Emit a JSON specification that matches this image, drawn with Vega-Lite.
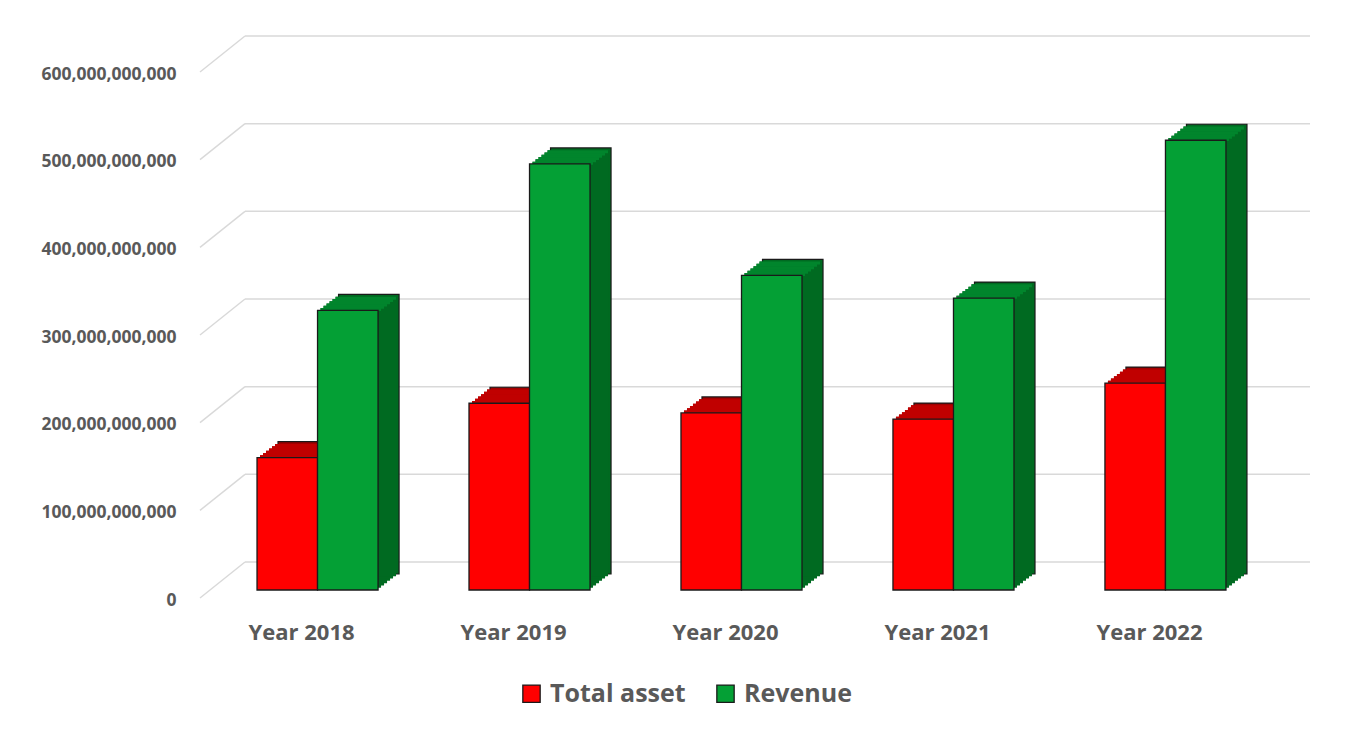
{
  "$schema": "https://vega.github.io/schema/vega-lite/v6.json",
  "autosize": {"type": "none"},
  "padding": {"left": 200, "top": 64, "right": 83, "bottom": 139},
  "width": 1083,
  "height": 526,
  "background": "#ffffff",
  "config": {"view": {"stroke": null}, "font": "Open Sans"},
  "datasets": {
    "bars": [
      {"year": "Year 2018", "series": "Total asset", "value": 151000000000},
      {"year": "Year 2018", "series": "Revenue", "value": 319000000000},
      {"year": "Year 2019", "series": "Total asset", "value": 213000000000},
      {"year": "Year 2019", "series": "Revenue", "value": 486000000000},
      {"year": "Year 2020", "series": "Total asset", "value": 202000000000},
      {"year": "Year 2020", "series": "Revenue", "value": 359000000000},
      {"year": "Year 2021", "series": "Total asset", "value": 195000000000},
      {"year": "Year 2021", "series": "Revenue", "value": 333000000000},
      {"year": "Year 2022", "series": "Total asset", "value": 236000000000},
      {"year": "Year 2022", "series": "Revenue", "value": 513000000000}
    ],
    "grid": [
      {"tick": 0}, {"tick": 100000000000}, {"tick": 200000000000}, {"tick": 300000000000},
      {"tick": 400000000000}, {"tick": 500000000000}, {"tick": 600000000000}
    ]
  },
  "layer": [
    {
      "data": {"name": "grid"},
      "mark": {"type": "rule", "color": "#d9d9d9", "strokeWidth": 1.5},
      "encoding": {
        "x": {"datum": 0, "type": "quantitative", "scale": {"domain": [0, 1], "range": [45, 1110]}, "axis": null},
        "x2": {"datum": 1},
        "y": {"field": "tick", "type": "quantitative", "scale": {"domain": [0, 600000000000], "nice": false, "range": [498, -28]}, "axis": null}
      }
    },
    {
      "data": {"name": "grid"},
      "mark": {"type": "rule", "color": "#d9d9d9", "strokeWidth": 1.5, "y2Offset": -36},
      "encoding": {
        "x": {"datum": 0, "type": "quantitative", "scale": {"domain": [0, 1], "range": [0, 45]}, "axis": null},
        "x2": {"datum": 1},
        "y": {"field": "tick", "type": "quantitative", "scale": {"domain": [0, 600000000000], "nice": false, "range": [534, 8]}, "axis": null},
        "y2": {"field": "tick"}
      }
    },
    {
      "data": {"name": "bars"},
      "mark": {"type": "bar", "stroke": "#1a1a1a", "strokeWidth": 1.2},
      "encoding": {
        "x": {"field": "year", "type": "nominal", "scale": {"paddingInner": 0.429, "paddingOuter": 0.269, "range": [21, 1104]}, "axis": null},
        "xOffset": {"field": "series", "type": "nominal", "sort": ["Total asset", "Revenue"], "scale": {"paddingInner": 0, "paddingOuter": 0}},
        "y": {"field": "value", "type": "quantitative", "scale": {"domain": [0, 600000000000], "nice": false, "range": [510, -16]}, "axis": null},
        "color": {"condition": {"test": "datum.series === 'Revenue'", "value": "#006A21"}, "value": "#A00000"}
      }
    },
    {
      "data": {"name": "bars"},
      "mark": {"type": "bar", "strokeWidth": 0},
      "encoding": {
        "x": {"field": "year", "type": "nominal", "scale": {"paddingInner": 0.429, "paddingOuter": 0.269, "range": [3, 1086]}, "axis": null},
        "xOffset": {"field": "series", "type": "nominal", "sort": ["Total asset", "Revenue"], "scale": {"paddingInner": 0, "paddingOuter": 0}},
        "y": {"field": "value", "type": "quantitative", "scale": {"domain": [0, 600000000000], "nice": false, "range": [523.71, -2.29]}, "axis": null},
        "color": {"condition": {"test": "datum.series === 'Revenue'", "value": "#006A21"}, "value": "#A00000"}
      }
    },
    {
      "data": {"name": "bars"},
      "mark": {"type": "bar", "strokeWidth": 0},
      "encoding": {
        "x": {"field": "year", "type": "nominal", "scale": {"paddingInner": 0.429, "paddingOuter": 0.269, "range": [6, 1089]}, "axis": null},
        "xOffset": {"field": "series", "type": "nominal", "sort": ["Total asset", "Revenue"], "scale": {"paddingInner": 0, "paddingOuter": 0}},
        "y": {"field": "value", "type": "quantitative", "scale": {"domain": [0, 600000000000], "nice": false, "range": [521.43, -4.57]}, "axis": null},
        "color": {"condition": {"test": "datum.series === 'Revenue'", "value": "#006A21"}, "value": "#A00000"}
      }
    },
    {
      "data": {"name": "bars"},
      "mark": {"type": "bar", "strokeWidth": 0},
      "encoding": {
        "x": {"field": "year", "type": "nominal", "scale": {"paddingInner": 0.429, "paddingOuter": 0.269, "range": [9, 1092]}, "axis": null},
        "xOffset": {"field": "series", "type": "nominal", "sort": ["Total asset", "Revenue"], "scale": {"paddingInner": 0, "paddingOuter": 0}},
        "y": {"field": "value", "type": "quantitative", "scale": {"domain": [0, 600000000000], "nice": false, "range": [519.14, -6.86]}, "axis": null},
        "color": {"condition": {"test": "datum.series === 'Revenue'", "value": "#006A21"}, "value": "#A00000"}
      }
    },
    {
      "data": {"name": "bars"},
      "mark": {"type": "bar", "strokeWidth": 0},
      "encoding": {
        "x": {"field": "year", "type": "nominal", "scale": {"paddingInner": 0.429, "paddingOuter": 0.269, "range": [12, 1095]}, "axis": null},
        "xOffset": {"field": "series", "type": "nominal", "sort": ["Total asset", "Revenue"], "scale": {"paddingInner": 0, "paddingOuter": 0}},
        "y": {"field": "value", "type": "quantitative", "scale": {"domain": [0, 600000000000], "nice": false, "range": [516.86, -9.14]}, "axis": null},
        "color": {"condition": {"test": "datum.series === 'Revenue'", "value": "#006A21"}, "value": "#A00000"}
      }
    },
    {
      "data": {"name": "bars"},
      "mark": {"type": "bar", "strokeWidth": 0},
      "encoding": {
        "x": {"field": "year", "type": "nominal", "scale": {"paddingInner": 0.429, "paddingOuter": 0.269, "range": [15, 1098]}, "axis": null},
        "xOffset": {"field": "series", "type": "nominal", "sort": ["Total asset", "Revenue"], "scale": {"paddingInner": 0, "paddingOuter": 0}},
        "y": {"field": "value", "type": "quantitative", "scale": {"domain": [0, 600000000000], "nice": false, "range": [514.57, -11.43]}, "axis": null},
        "color": {"condition": {"test": "datum.series === 'Revenue'", "value": "#006A21"}, "value": "#A00000"}
      }
    },
    {
      "data": {"name": "bars"},
      "mark": {"type": "bar", "strokeWidth": 0},
      "encoding": {
        "x": {"field": "year", "type": "nominal", "scale": {"paddingInner": 0.429, "paddingOuter": 0.269, "range": [18, 1101]}, "axis": null},
        "xOffset": {"field": "series", "type": "nominal", "sort": ["Total asset", "Revenue"], "scale": {"paddingInner": 0, "paddingOuter": 0}},
        "y": {"field": "value", "type": "quantitative", "scale": {"domain": [0, 600000000000], "nice": false, "range": [512.29, -13.71]}, "axis": null},
        "color": {"condition": {"test": "datum.series === 'Revenue'", "value": "#006A21"}, "value": "#A00000"}
      }
    },
    {
      "data": {"name": "bars"},
      "mark": {"type": "bar", "strokeWidth": 0, "y2Offset": 3},
      "encoding": {
        "x": {"field": "year", "type": "nominal", "scale": {"paddingInner": 0.429, "paddingOuter": 0.269, "range": [3, 1086]}, "axis": null},
        "xOffset": {"field": "series", "type": "nominal", "sort": ["Total asset", "Revenue"], "scale": {"paddingInner": 0, "paddingOuter": 0}},
        "y": {"field": "value", "type": "quantitative", "scale": {"domain": [0, 600000000000], "nice": false, "range": [523.71, -2.29]}, "axis": null},
        "y2": {"field": "value"},
        "color": {"condition": {"test": "datum.series === 'Revenue'", "value": "#01852C"}, "value": "#C00000"}
      }
    },
    {
      "data": {"name": "bars"},
      "mark": {"type": "bar", "strokeWidth": 0, "y2Offset": 3},
      "encoding": {
        "x": {"field": "year", "type": "nominal", "scale": {"paddingInner": 0.429, "paddingOuter": 0.269, "range": [6, 1089]}, "axis": null},
        "xOffset": {"field": "series", "type": "nominal", "sort": ["Total asset", "Revenue"], "scale": {"paddingInner": 0, "paddingOuter": 0}},
        "y": {"field": "value", "type": "quantitative", "scale": {"domain": [0, 600000000000], "nice": false, "range": [521.43, -4.57]}, "axis": null},
        "y2": {"field": "value"},
        "color": {"condition": {"test": "datum.series === 'Revenue'", "value": "#01852C"}, "value": "#C00000"}
      }
    },
    {
      "data": {"name": "bars"},
      "mark": {"type": "bar", "strokeWidth": 0, "y2Offset": 3},
      "encoding": {
        "x": {"field": "year", "type": "nominal", "scale": {"paddingInner": 0.429, "paddingOuter": 0.269, "range": [9, 1092]}, "axis": null},
        "xOffset": {"field": "series", "type": "nominal", "sort": ["Total asset", "Revenue"], "scale": {"paddingInner": 0, "paddingOuter": 0}},
        "y": {"field": "value", "type": "quantitative", "scale": {"domain": [0, 600000000000], "nice": false, "range": [519.14, -6.86]}, "axis": null},
        "y2": {"field": "value"},
        "color": {"condition": {"test": "datum.series === 'Revenue'", "value": "#01852C"}, "value": "#C00000"}
      }
    },
    {
      "data": {"name": "bars"},
      "mark": {"type": "bar", "strokeWidth": 0, "y2Offset": 3},
      "encoding": {
        "x": {"field": "year", "type": "nominal", "scale": {"paddingInner": 0.429, "paddingOuter": 0.269, "range": [12, 1095]}, "axis": null},
        "xOffset": {"field": "series", "type": "nominal", "sort": ["Total asset", "Revenue"], "scale": {"paddingInner": 0, "paddingOuter": 0}},
        "y": {"field": "value", "type": "quantitative", "scale": {"domain": [0, 600000000000], "nice": false, "range": [516.86, -9.14]}, "axis": null},
        "y2": {"field": "value"},
        "color": {"condition": {"test": "datum.series === 'Revenue'", "value": "#01852C"}, "value": "#C00000"}
      }
    },
    {
      "data": {"name": "bars"},
      "mark": {"type": "bar", "strokeWidth": 0, "y2Offset": 3},
      "encoding": {
        "x": {"field": "year", "type": "nominal", "scale": {"paddingInner": 0.429, "paddingOuter": 0.269, "range": [15, 1098]}, "axis": null},
        "xOffset": {"field": "series", "type": "nominal", "sort": ["Total asset", "Revenue"], "scale": {"paddingInner": 0, "paddingOuter": 0}},
        "y": {"field": "value", "type": "quantitative", "scale": {"domain": [0, 600000000000], "nice": false, "range": [514.57, -11.43]}, "axis": null},
        "y2": {"field": "value"},
        "color": {"condition": {"test": "datum.series === 'Revenue'", "value": "#01852C"}, "value": "#C00000"}
      }
    },
    {
      "data": {"name": "bars"},
      "mark": {"type": "bar", "strokeWidth": 0, "y2Offset": 3},
      "encoding": {
        "x": {"field": "year", "type": "nominal", "scale": {"paddingInner": 0.429, "paddingOuter": 0.269, "range": [18, 1101]}, "axis": null},
        "xOffset": {"field": "series", "type": "nominal", "sort": ["Total asset", "Revenue"], "scale": {"paddingInner": 0, "paddingOuter": 0}},
        "y": {"field": "value", "type": "quantitative", "scale": {"domain": [0, 600000000000], "nice": false, "range": [512.29, -13.71]}, "axis": null},
        "y2": {"field": "value"},
        "color": {"condition": {"test": "datum.series === 'Revenue'", "value": "#01852C"}, "value": "#C00000"}
      }
    },
    {
      "data": {"name": "bars"},
      "mark": {"type": "bar", "stroke": "#1a1a1a", "strokeWidth": 1.3},
      "encoding": {
        "x": {"field": "year", "type": "nominal",
          "scale": {"paddingInner": 0.429, "paddingOuter": 0.269},
          "axis": {"title": null, "domain": false, "ticks": false, "labelAngle": 0,
            "labelFont": "Open Sans", "labelFontWeight": "bold", "labelFontSize": 22, "labelColor": "#595959",
            "labelPadding": 32, "labelOffset": -16}},
        "xOffset": {"field": "series", "type": "nominal", "sort": ["Total asset", "Revenue"],
          "scale": {"paddingInner": 0, "paddingOuter": 0}},
        "y": {"field": "value", "type": "quantitative",
          "scale": {"domain": [0, 600000000000], "nice": false},
          "axis": {"values": [0, 100000000000, 200000000000, 300000000000, 400000000000, 500000000000, 600000000000],
            "format": ",d", "grid": false, "domain": false, "ticks": false, "title": null,
            "labelFont": "Open Sans", "labelFontWeight": "bold", "labelFontSize": 17.5, "labelColor": "#595959",
            "labelPadding": 24, "labelOffset": 10}},
        "color": {"field": "series", "type": "nominal",
          "scale": {"domain": ["Total asset", "Revenue"], "range": ["#FF0000", "#04A035"]},
          "legend": {"title": null, "orient": "none", "direction": "horizontal",
            "legendX": 319, "legendY": 617,
            "symbolType": "square", "symbolSize": 300, "symbolStrokeColor": "#1a1a1a", "symbolStrokeWidth": 1.3,
            "labelFont": "Open Sans", "labelFontWeight": "bold", "labelFontSize": 25, "labelColor": "#595959",
            "labelOffset": 6, "columnPadding": 27}}
      }
    }
  ],
  "resolve": {"scale": {"x": "independent", "y": "independent", "color": "independent", "xOffset": "independent"}}
}
